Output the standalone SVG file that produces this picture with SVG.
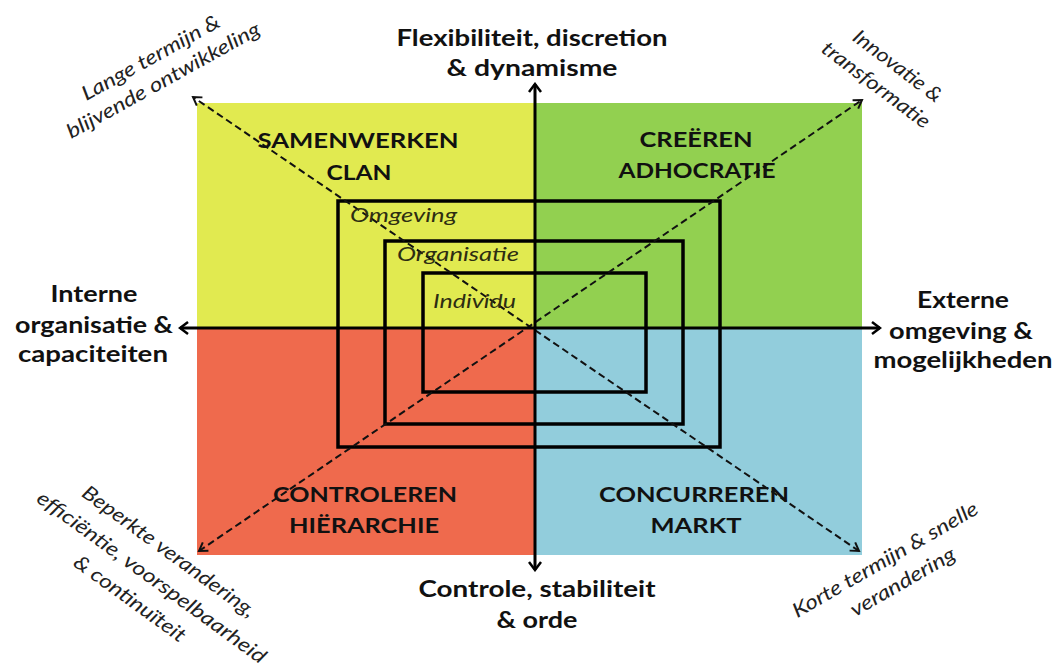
<svg xmlns="http://www.w3.org/2000/svg" width="1057" height="667" viewBox="0 0 1057 667">
<defs>
<style>
.axis{stroke:#000;stroke-width:3;fill:none}
.diag{stroke:#111;stroke-width:2;stroke-dasharray:7 4;fill:none}
.frame{stroke:#000;stroke-width:3.5;fill:none}
.ax{font-family:Lato,"Open Sans","Liberation Sans",sans-serif;font-weight:bold;font-size:22px;fill:#111;text-anchor:middle}
.q{font-family:Lato,"Open Sans","Liberation Sans",sans-serif;font-weight:bold;font-size:21px;fill:#111;text-anchor:middle}
.lv{font-family:Lato,"Open Sans","Liberation Sans",sans-serif;font-style:italic;font-size:20px;fill:#2d2d12}
.cr{font-family:Lato,"Open Sans","Liberation Sans",sans-serif;font-style:italic;font-size:20px;fill:#222;text-anchor:middle}
</style>
<marker id="ah" viewBox="-11 -8 13 16" markerWidth="13" markerHeight="16" refX="0" refY="0" orient="auto-start-reverse" markerUnits="userSpaceOnUse">
<path d="M-8,-6 L0,0 L-8,6" fill="none" stroke="#000" stroke-width="2.5"/>
</marker>
<marker id="dh" viewBox="-10 -7 12 14" markerWidth="12" markerHeight="14" refX="0" refY="0" orient="auto-start-reverse" markerUnits="userSpaceOnUse">
<path d="M-8,-5 L0,0 L-8,5" fill="none" stroke="#111" stroke-width="2"/>
</marker>
</defs>
<rect width="1057" height="667" fill="#fff"/>
<g id="quadrant-clan">
<rect x="197" y="103" width="338" height="225" fill="#e1ea50"/>
</g>
<g id="quadrant-adhocratie">
<rect x="535" y="103" width="327" height="225" fill="#92d050"/>
</g>
<g id="quadrant-hierarchie">
<rect x="197" y="328" width="338" height="227" fill="#ef6a4d"/>
</g>
<g id="quadrant-markt">
<rect x="535" y="328" width="327" height="227" fill="#92cddc"/>
</g>
<g id="levels">
<rect class="frame" x="338" y="201" width="382" height="246"/>
<rect class="frame" x="385" y="241" width="298" height="183"/>
<rect class="frame" x="423" y="273" width="223" height="119"/>
</g>
<g id="connectors">
<line class="diag" x1="199" y1="551" x2="862" y2="100" marker-start="url(#dh)" marker-end="url(#dh)"/>
<line class="diag" x1="859" y1="551" x2="193" y2="97" marker-start="url(#dh)" marker-end="url(#dh)"/>
<line class="axis" x1="535" y1="84" x2="535" y2="570" marker-start="url(#ah)" marker-end="url(#ah)"/>
<line class="axis" x1="180" y1="328" x2="880" y2="328" marker-start="url(#ah)" marker-end="url(#ah)"/>
</g>
<g id="level-labels">
<text class="lv" x="350" y="222" textLength="107" lengthAdjust="spacingAndGlyphs">Omgeving</text>
<text class="lv" x="397" y="261" textLength="122" lengthAdjust="spacingAndGlyphs">Organisatie</text>
<text class="lv" x="433" y="308" textLength="83" lengthAdjust="spacingAndGlyphs">Individu</text>
</g>
<g id="label-clan"><text class="q" x="358" y="148" textLength="201" lengthAdjust="spacingAndGlyphs">SAMENWERKEN</text><text class="q" x="359" y="180" textLength="65" lengthAdjust="spacingAndGlyphs">CLAN</text></g>
<g id="label-adhocratie"><text class="q" x="696" y="147" textLength="113" lengthAdjust="spacingAndGlyphs">CREËREN</text><text class="q" x="697" y="178" textLength="157" lengthAdjust="spacingAndGlyphs">ADHOCRATIE</text></g>
<g id="label-hierarchie"><text class="q" x="365" y="502" textLength="184" lengthAdjust="spacingAndGlyphs">CONTROLEREN</text><text class="q" x="364" y="533" textLength="150" lengthAdjust="spacingAndGlyphs">HIËRARCHIE</text></g>
<g id="label-markt"><text class="q" x="694" y="502" textLength="190" lengthAdjust="spacingAndGlyphs">CONCURREREN</text><text class="q" x="696" y="533" textLength="91" lengthAdjust="spacingAndGlyphs">MARKT</text></g>
<g id="axis-top"><text class="ax" x="532" y="46" textLength="271" lengthAdjust="spacingAndGlyphs">Flexibiliteit, discretion</text><text class="ax" x="532" y="76" textLength="171" lengthAdjust="spacingAndGlyphs">&amp; dynamisme</text></g>
<g id="axis-bottom"><text class="ax" x="537" y="597" textLength="237" lengthAdjust="spacingAndGlyphs">Controle, stabiliteit</text><text class="ax" x="537" y="628" textLength="81" lengthAdjust="spacingAndGlyphs">&amp; orde</text></g>
<g id="axis-left"><text class="ax" x="94" y="302" textLength="87" lengthAdjust="spacingAndGlyphs">Interne</text><text class="ax" x="94" y="333" textLength="158" lengthAdjust="spacingAndGlyphs">organisatie &amp;</text><text class="ax" x="93" y="362" textLength="150" lengthAdjust="spacingAndGlyphs">capaciteiten</text></g>
<g id="axis-right"><text class="ax" x="963" y="308" textLength="92" lengthAdjust="spacingAndGlyphs">Externe</text><text class="ax" x="961" y="339" textLength="144" lengthAdjust="spacingAndGlyphs">omgeving &amp;</text><text class="ax" x="963" y="368" textLength="179" lengthAdjust="spacingAndGlyphs">mogelijkheden</text></g>
<g id="corner-tl" transform="translate(154,63.5) rotate(-29)"><text class="cr" x="0" y="0" textLength="155" lengthAdjust="spacingAndGlyphs">Lange termijn &amp;</text><text class="cr" x="0" y="26" textLength="218" lengthAdjust="spacingAndGlyphs">blijvende ontwikkeling</text></g>
<g id="corner-tr" transform="translate(893.5,71.5) rotate(37)"><text class="cr" x="0" y="0" textLength="106" lengthAdjust="spacingAndGlyphs">Innovatie &amp;</text><text class="cr" x="-6" y="28" textLength="130" lengthAdjust="spacingAndGlyphs">transformatie</text></g>
<g id="corner-bl" transform="translate(165,557) rotate(36)"><text class="cr" x="0" y="0" textLength="209" lengthAdjust="spacingAndGlyphs">Beperkte verandering,</text><text class="cr" x="1" y="31" textLength="278" lengthAdjust="spacingAndGlyphs">efficiëntie, voorspelbaarheid</text><text class="cr" x="-4" y="61" textLength="133" lengthAdjust="spacingAndGlyphs">&amp; continuïteit</text></g>
<g id="corner-br" transform="translate(888.5,565.5) rotate(-30)"><text class="cr" x="0" y="0" textLength="211" lengthAdjust="spacingAndGlyphs">Korte termijn &amp; snelle</text><text class="cr" x="4" y="28" textLength="118" lengthAdjust="spacingAndGlyphs">verandering</text></g>
</svg>
